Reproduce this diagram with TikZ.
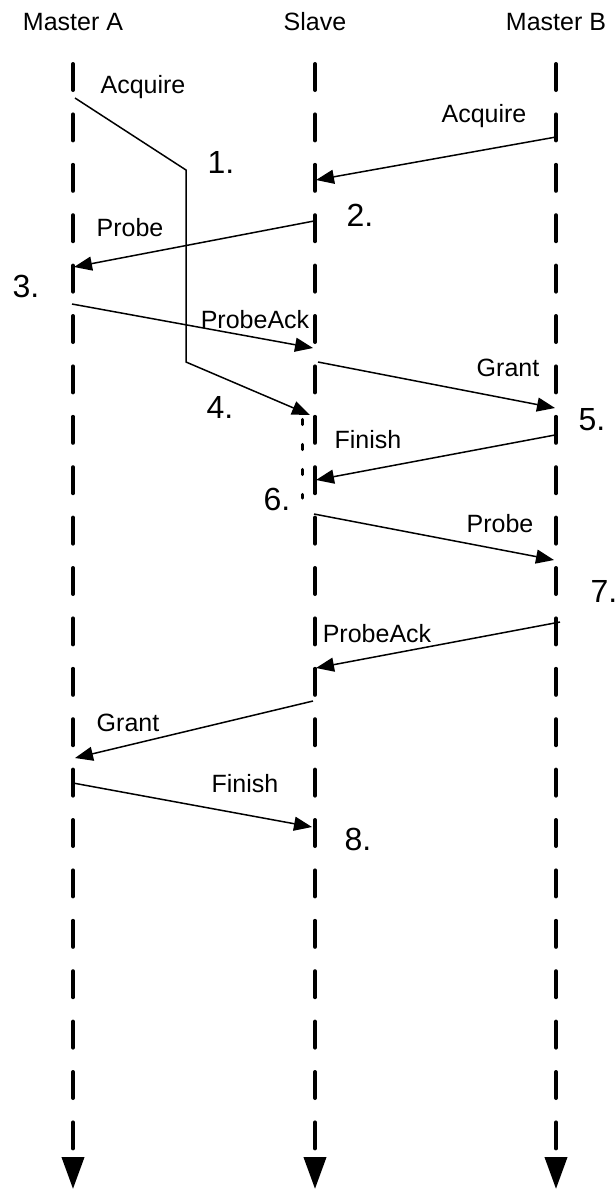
\documentclass[tikz,border=0pt]{standalone}
\usepackage{fontspec}
\setmainfont{Liberation Sans}
\usetikzlibrary{arrows.meta}

\begin{document}
\begin{tikzpicture}[x=0.5pt,y=-0.5pt,
  lbl/.style={anchor=base,inner sep=0pt,font=\fontsize{12.5}{15}\selectfont},
  num/.style={anchor=base,inner sep=0pt,font=\fontsize{16}{19}\selectfont},
  life/.style={line width=2pt,line cap=round,dash pattern=on 13pt off 12.2pt,
    -{Triangle[length=16pt,width=11pt]}},
  msg/.style={line width=0.75pt,-{Triangle[length=9pt,width=7pt]}}]
  \useasboundingbox (0,0) rectangle (616,1191);

  % lifelines
  \foreach \x/\n/\t in {73/ma/Master A,315/sl/Slave,556/mb/Master B}{
    \node[lbl] (\n) at (\x,30) {\t};
    \coordinate (\n-top) at (\x,64);
    \coordinate (\n-bot) at (\x,1189);
    \draw[life] (\n-top) -- (\n-bot);
  }
  \coordinate (dot-top) at (302.5,419.5);
  \coordinate (dot-bot) at (302.5,498);
  \draw[line width=1.6pt,line cap=round,dash pattern=on 2.5pt off 10pt] (dot-top) -- (dot-bot);

  % acquire from master A
  \coordinate (acqa) at (75,98);
  \coordinate (acqa-1) at (186,170);
  \coordinate (acqa-2) at (186,362);
  \coordinate (acqa-e) at (310,415);
  \draw[msg] (acqa) -- (acqa-1) -- (acqa-2) -- (acqa-e);

  % messages
  \foreach \n/\sx/\sy/\ex/\ey in {2/556/137/316/180, 3/314/221/74/267,
      4/72/304/313/348, 5/318/362/555/408, 6/555/435/316/480,
      7/314/514/554/560, 8/560/622/316/668, 9/313/701/75/758,
      10/73/783/312/827}{
    \coordinate (s\n) at (\sx,\sy);
    \coordinate (e\n) at (\ex,\ey);
    \draw[msg] (s\n) -- (e\n);
  }

  \node[lbl] (l1) at (143,93) {Acquire};
  \node[lbl] (l2) at (484,122) {Acquire};
  \node[lbl] (l3) at (130,236) {Probe};
  \node[lbl] (l4) at (255,328) {ProbeAck};
  \node[lbl] (l5) at (508,376) {Grant};
  \node[lbl] (l6) at (368,448) {Finish};
  \node[lbl] (l7) at (500,532) {Probe};
  \node[lbl] (l8) at (377,642) {ProbeAck};
  \node[lbl] (l9) at (128,731) {Grant};
  \node[lbl] (l10) at (245,792) {Finish};

  \node[num] (n1) at (221,173) {1.};
  \node[num] (n2) at (360,226) {2.};
  \node[num] (n3) at (26,297) {3.};
  \node[num] (n4) at (220,418) {4.};
  \node[num] (n5) at (592,430) {5.};
  \node[num] (n6) at (277,510) {6.};
  \node[num] (n7) at (604,602) {7.};
  \node[num] (n8) at (358,850) {8.};
\end{tikzpicture}
\end{document}
